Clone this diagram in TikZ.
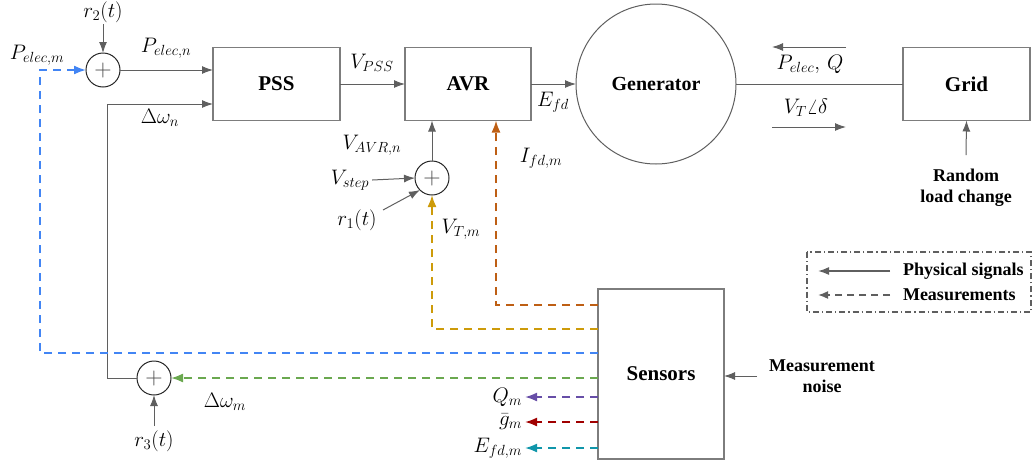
\documentclass[tikz,border=0pt]{standalone}
\usepackage{fix-cm}
\usepackage{fontspec}
\setmainfont{Liberation Serif}
\usetikzlibrary{arrows.meta,calc}
\definecolor{lg}{RGB}{95,95,95}
\definecolor{bx}{RGB}{125,125,125}
\definecolor{cblue}{RGB}{66,133,244}
\definecolor{cgreen}{RGB}{106,168,79}
\definecolor{cgold}{RGB}{205,155,10}
\definecolor{cifd}{RGB}{190,95,20}
\definecolor{cpurp}{RGB}{103,78,167}
\definecolor{cred}{RGB}{160,0,0}
\definecolor{cteal}{RGB}{16,150,170}
\tikzset{
  every node/.style={font=\fontsize{21}{25}\selectfont, inner sep=0pt, outer sep=0pt},
  blk/.style={draw=bx, line width=1.1pt, minimum width=127pt, minimum height=73pt, font=\fontsize{21}{24}\selectfont\bfseries},
  sumc/.style={draw=black!85, circle, line width=1pt, minimum size=34pt, text=black!70, font=\fontsize{24}{28}\selectfont},
  bl/.style={font=\fontsize{18}{21}\selectfont\bfseries, align=center},
  sig/.style={draw=lg, line width=1pt, -{Latex[length=11pt,width=8pt]}},
  meas/.style={line width=1.8pt, dash pattern=on 8pt off 6pt, -{Latex[length=12pt,width=9pt]}},
}
\begin{document}
\begin{tikzpicture}[x=1pt,y=-1pt]
\useasboundingbox (0,0) rectangle (1035,464);
% blocks
\node[blk] (pss) at (276.5,84) {PSS};
\node[blk, minimum width=126pt] (avr) at (468,84) {AVR};
\node[draw=lg, line width=1pt, circle, minimum size=160pt, font=\fontsize{20}{24}\selectfont\bfseries] (gen) at (656,84) {Generator};
\node[blk] (grid) at (966.5,84) {Grid};
\node[blk, minimum width=126pt, minimum height=170pt] (sens) at (661,374) {Sensors};
% summation nodes
\node[sumc] (s2) at (103,70) {$+$};
\node[sumc] (s1) at (432,178) {$+$};
\node[sumc] (s3) at (154,378) {$+$};
% labels
\node (r2) at (103,12) {$r_2(t)$};
\node (pem) at (37,55) {$P_{elec,m}$};
\node (pen) at (166,48) {$P_{elec,n}$};
\node (dwn) at (160,118) {$\Delta\omega_n$};
\node (vpss) at (372,63) {$V_{PSS}$};
\node (efd) at (553,102) {$E_{fd}$};
\node (vavr) at (372,145) {$V_{AVR,n}$};
\node (vstep) at (350,180) {$V_{step}$};
\node (r1) at (357,220) {$r_1(t)$};
\node (vtm) at (461,229) {$V_{T,m}$};
\node (ifdm) at (541,158) {$I_{fd,m}$};
\node (pq) at (810,64) {$P_{elec},\,Q$};
\node (vt) at (806,108) {$V_T\angle\delta$};
\node[bl] (rlc) at (966,188) {Random\\load change};
\node[bl] (mn) at (822,376) {Measurement\\noise};
\node (dwm) at (225,402) {$\Delta\omega_m$};
\node (r3) at (154,441) {$r_3(t)$};
\node[anchor=east] (qm) at (522,397) {$Q_m$};
\node[anchor=east] (gm) at (522,422) {$\bar{g}_m$};
\node[anchor=east] (efdm) at (522,448) {$E_{fd,m}$};
% coordinates
\coordinate (r2t) at (103,24);
\coordinate (r1t) at (383,210);
\coordinate (r3t) at (154,426);
\coordinate (rlt) at (966,155);
\coordinate (mnt) at (757,376);
\coordinate (dwc) at (107,104);
\coordinate (pqa) at (846,47);
\coordinate (pqb) at (772,47);
\coordinate (vta) at (772,127);
\coordinate (vtb) at (846,127);
% physical signals
\draw[sig] (r2t) -- (s2.north);
\draw[sig] (s2.east) -- (s2.east -| pss.west);
\draw[sig] (pss.east) -- (avr.west);
\draw[sig] (avr.east) -- (gen.west);
\draw[draw=lg, line width=1pt] (gen.east) -- (grid.west);
\draw[sig] (pqa) -- (pqb);
\draw[sig] (vta) -- (vtb);
\draw[sig] (rlt) -- (grid.south);
\draw[sig] (s1.north) -- (s1.north |- avr.south);
\draw[sig] (vstep.east) ++(3,0) -- (s1.west);
\draw[sig] (r1t) -- (s1.south west);
\draw[sig] (s3.west) -| (dwc) -- (dwc -| pss.west);
\draw[sig] (r3t) -- (s3.south);
\draw[sig] (mnt) -- (sens.east |- mnt);
% measurements
\draw[meas, cifd] (sens.west |- 0,305) -| (496,0 |- avr.south);
\draw[meas, cgold] (sens.west |- 0,329) -| (s1.south);
\draw[meas, cblue] (sens.west |- 0,353) -| (40,0 |- s2.west) -- (s2.west);
\draw[meas, cgreen] (sens.west |- s3.east) -- (s3.east);
\draw[meas, cpurp] (sens.west |- qm.east) -- ([xshift=3pt]qm.east);
\draw[meas, cred] (sens.west |- gm.east) -- ([xshift=3pt]gm.east);
\draw[meas, cteal] (sens.west |- efdm.east) -- ([xshift=3pt]efdm.east);
% legend
\draw[lg, line width=1.3pt, dash pattern=on 6pt off 3pt on 1.2pt off 3pt] (807,252) rectangle (1031,312);
\coordinate (lg1) at (890,271);
\coordinate (lg2) at (890,295);
\draw[sig, line width=1.6pt] (lg1) -- ++(-72,0);
\draw[draw=lg, line width=1.6pt, dash pattern=on 7pt off 5pt, -{Latex[length=10pt,width=8pt]}] (lg2) -- ++(-72,0);
\node[bl, anchor=west] (lt1) at (903,271) {Physical signals};
\node[bl, anchor=west] (lt2) at (903,295) {Measurements};
\end{tikzpicture}
\end{document}
